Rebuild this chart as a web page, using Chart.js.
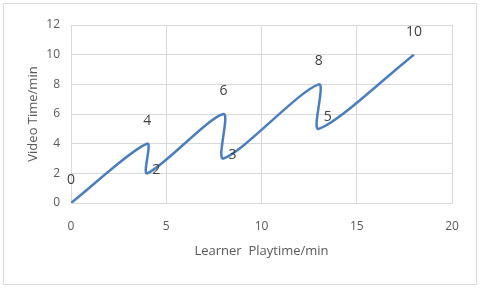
<!DOCTYPE html>
<html>
<head>
<meta charset="utf-8">
<script src="https://cdn.jsdelivr.net/npm/chart.js@4/dist/chart.umd.min.js"></script>
<style>
  body { margin: 0; background: #fff; }
  #wrap { position: relative; width: 480px; height: 288px; }
  #frame { position: absolute; left: 3px; top: 3px; width: 472px; height: 280px; border: 1px solid #d9d9d9; }
  canvas { position: absolute; left: 0; top: 0; }
</style>
</head>
<body>
<div id="wrap">
  <div id="frame"></div>
  <canvas id="myChart" width="480" height="288"></canvas>
</div>
<script>
// learner playtime (x) vs video time (y), in minutes
let playtime = [0, 4, 4, 8, 8, 13, 13, 18];
let videoTime = [0, 4, 2, 6, 3, 8, 5, 10];
let pointLabels = ['0', '4', '2', '6', '3', '8', '5', '10'];
let xTicks = [0, 5, 10, 15, 20];
let yTicks = [0, 2, 4, 6, 8, 10, 12];

// where each label sits relative to its point
let labelSide = ['above', 'above', 'right', 'above', 'right', 'above', 'right', 'above'];

let points = playtime.map((x, i) => ({ x: x, y: videoTime[i] }));

let labelPlugin = {
  id: 'pointLabels',
  afterDatasetsDraw(chart) {
    let ctx = chart.ctx;
    let xs = chart.scales.x, ys = chart.scales.y;
    ctx.save();
    ctx.font = '14px "Open Sans", sans-serif';
    ctx.fillStyle = '#404040';
    ctx.textBaseline = 'middle';
    points.forEach((p, i) => {
      let px = xs.getPixelForValue(p.x);
      let py = ys.getPixelForValue(p.y);
      if (labelSide[i] === 'above') {
        ctx.textAlign = 'center';
        ctx.fillText(pointLabels[i], px, py - 23);
      } else {
        ctx.textAlign = 'left';
        ctx.fillText(pointLabels[i], px + 5, py - (i === 6 ? 12 : 3));
      }
    });
    ctx.restore();
  }
};

let tickFont = { family: '"Open Sans", sans-serif', size: 12 };
let grey = '#d9d9d9';

new Chart(document.getElementById('myChart'), {
  type: 'scatter',
  data: {
    datasets: [{
      data: points,
      showLine: true,
      borderColor: '#4a7ebf',
      borderWidth: 2.5,
      pointRadius: 0,
      tension: 0.28,
      fill: false
    }]
  },
  options: {
    responsive: false,
    animation: false,
    layout: { padding: { left: 0, right: 28, top: 25, bottom: 0 } },
    plugins: { legend: { display: false }, tooltip: { enabled: false } },
    elements: { line: { capBezierPoints: false } },
    scales: {
      x: {
        type: 'linear',
        min: 0, max: 20,
        afterBuildTicks: s => { s.ticks = xTicks.map(v => ({ value: v })); },
        afterFit: s => { s.height = 85; },
        grid: { color: grey, drawTicks: false },
        border: { color: grey },
        ticks: { color: '#595959', font: tickFont, padding: 16 },
        title: {
          display: true,
          text: 'Learner  Playtime/min',
          color: '#595959',
          font: { family: '"Open Sans", sans-serif', size: 13 },
          padding: { top: 0, bottom: 29 }
        }
      },
      y: {
        type: 'linear',
        min: 0, max: 12,
        afterBuildTicks: s => { s.ticks = yTicks.map(v => ({ value: v })); },
        afterFit: s => { s.width = 71; },
        grid: { color: grey, drawTicks: false },
        border: { color: grey },
        ticks: { color: '#595959', font: tickFont, padding: 11 },
        title: {
          display: true,
          text: 'Video Time/min',
          color: '#595959',
          font: { family: '"Open Sans", sans-serif', size: 13 },
          padding: { top: 25, bottom: 0 }
        }
      }
    }
  },
  plugins: [labelPlugin]
});
</script>
</body>
</html>
